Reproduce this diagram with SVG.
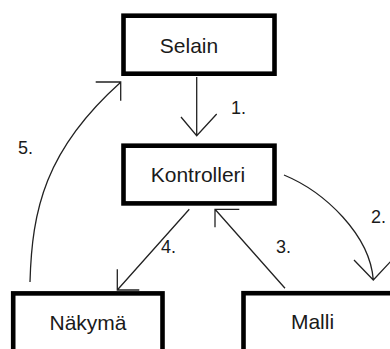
<svg xmlns="http://www.w3.org/2000/svg" width="390" height="349" viewBox="0 0 390 349">
<style>
.box{fill:#fff;stroke:#000;stroke-width:4.6}
.lbl{font-family:"Liberation Sans",Arial,sans-serif;font-size:21px;fill:#1a1a1a;text-anchor:middle}
.num{font-family:"Liberation Sans",Arial,sans-serif;font-size:18px;fill:#1a1a1a}
.ln{fill:none;stroke:#222;stroke-width:1.3}
</style>
<rect width="390" height="349" fill="#fff"/>
<g id="selain"><rect class="box" x="123.5" y="15.7" width="151" height="58"/><text class="lbl" x="189" y="53">Selain</text></g>
<g id="kontrolleri"><rect class="box" x="123.5" y="145.7" width="151" height="57.7"/><text class="lbl" x="198" y="181.5">Kontrolleri</text></g>
<g id="nakyma"><rect class="box" x="13.2" y="293.4" width="149.3" height="80"/><text class="lbl" x="88" y="330">Näkymä</text></g>
<g id="malli"><rect class="box" x="243.5" y="293.2" width="160" height="80"/><text class="lbl" x="312.5" y="328.5">Malli</text></g>
<g id="connectors">
<path class="ln" d="M196.7,77 V135.7 M181,117 L196.7,135.7 L216.7,114"/>
<text class="num" x="231" y="114">1.</text>
<path class="ln" d="M284,175 C325,192 370,235 373.3,280 M354,260 L373.3,280 L392,260"/>
<text class="num" x="371" y="223">2.</text>
<path class="ln" d="M285,288.3 L215,209.3 M239.3,209.3 H215 V227.3"/>
<text class="num" x="276" y="252.5">3.</text>
<path class="ln" d="M189.3,209.3 L117.3,290 M117.3,269.3 V290 H139.3"/>
<text class="num" x="161" y="252.5">4.</text>
<path class="ln" d="M30,282 C32,210 45,150 120.7,82.3 M95.7,82 H120.7 V100.7"/>
<text class="num" x="18" y="154">5.</text>
</g>
</svg>
